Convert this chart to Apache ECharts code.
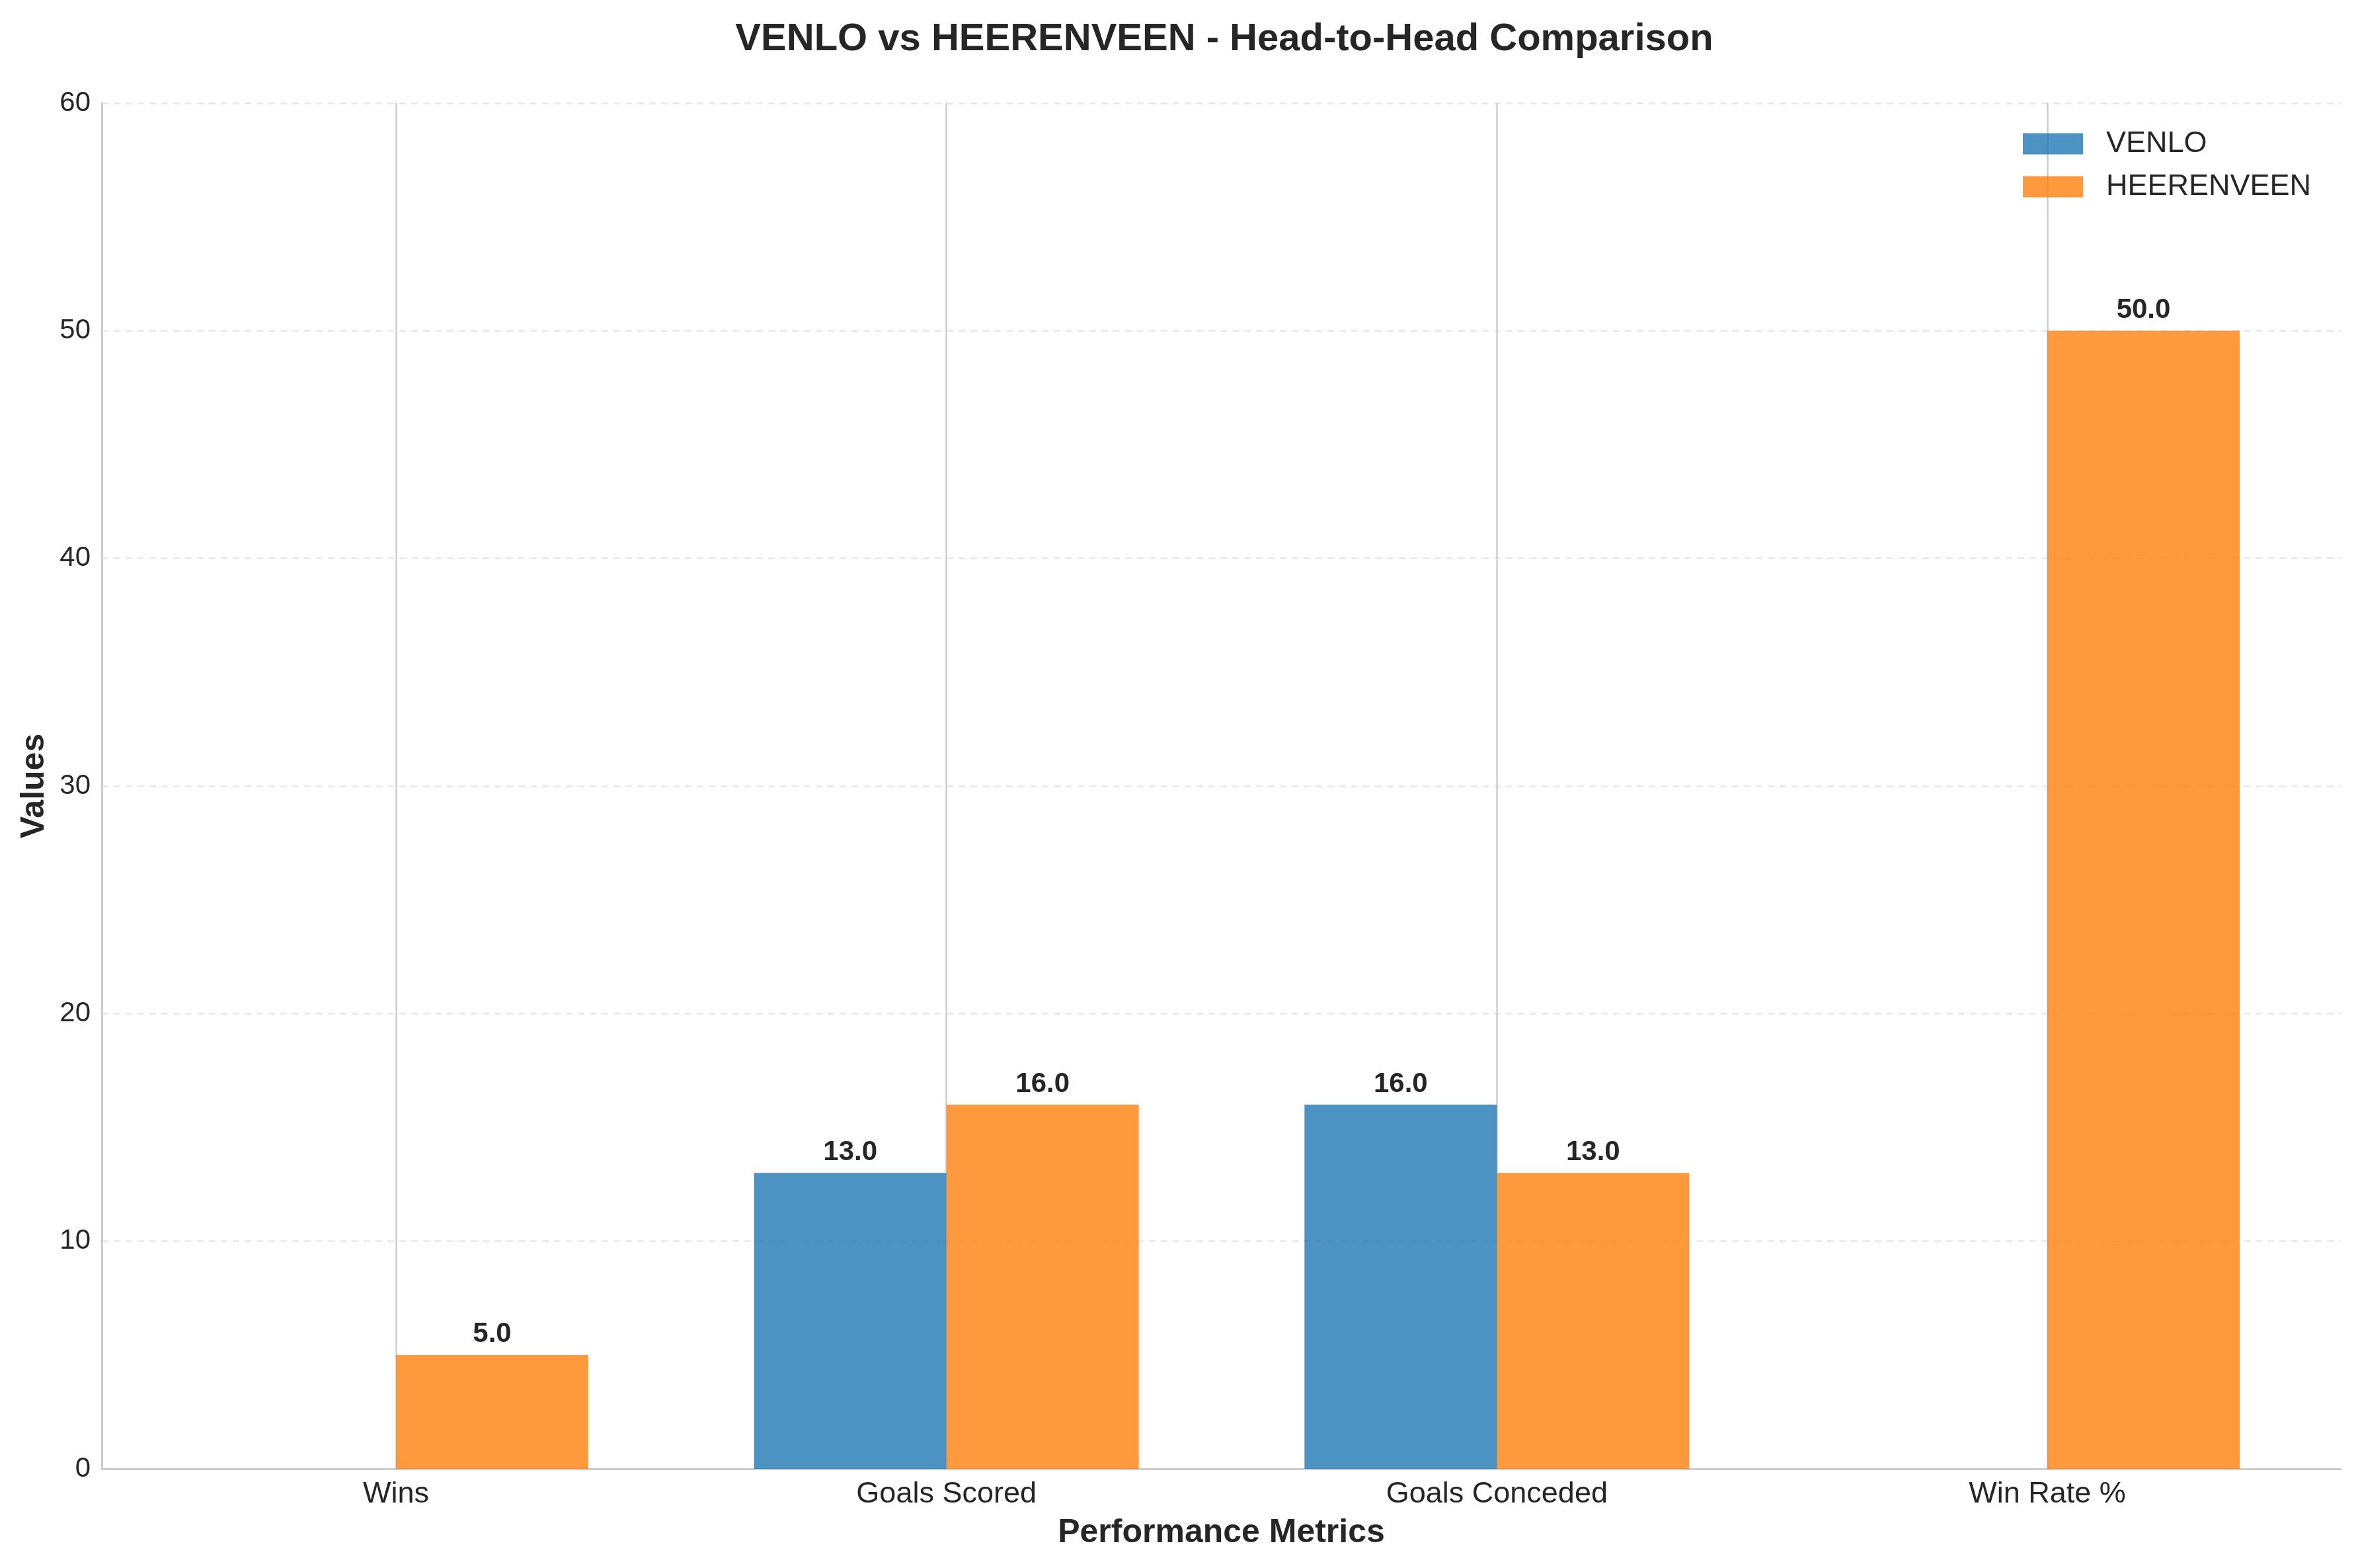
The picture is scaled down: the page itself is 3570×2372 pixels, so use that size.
<!DOCTYPE html>
<html>
<head>
<meta charset="utf-8">
<script src="https://cdn.jsdelivr.net/npm/echarts@6/dist/echarts.min.js"></script>
<style>
  html, body { margin: 0; padding: 0; background: #fff; }
  #chart { width: 3570px; height: 2372px; }
</style>
</head>
<body>
<div id="chart"></div>
<script>
// metrics on the x axis
const metrics = ['Wins', 'Goals Scored', 'Goals Conceded', 'Win Rate %']
// values per team
const venlo = [0, 13, 16, 0]
const heerenveen = [5, 16, 13, 50]
const teams = ['VENLO', 'HEERENVEEN']

const textColor = '#262626'
const lineColor = '#cccccc'
const font = 'Liberation Sans, Arial, sans-serif'

const chart = echarts.init(document.getElementById('chart'))

const barLabel = {
  show: true,
  position: 'top',
  distance: 10,
  fontFamily: font,
  fontSize: 42,
  fontWeight: 'bold',
  color: textColor,
  formatter: p => (p.value > 0 ? p.value.toFixed(1) : '')
}

const option = {
  backgroundColor: '#ffffff',
  animation: false,
  title: {
    text: 'VENLO vs HEERENVEEN - Head-to-Head Comparison',
    left: 1847,
    top: 26,
    textAlign: 'center',
    textStyle: {
      fontFamily: font,
      fontSize: 58,
      fontWeight: 'bold',
      color: textColor
    }
  },
  legend: {
    data: teams,
    orient: 'vertical',
    left: 3055,
    top: 190,
    icon: 'rect',
    itemWidth: 91,
    itemHeight: 32,
    itemGap: 20,
    textStyle: {
      fontFamily: font,
      fontSize: 45,
      color: textColor,
      padding: [0, 0, 0, 30]
    }
  },
  grid: [
    // full plot area: y axis, dashed grid, bottom spine
    {left: 154, right: 29, top: 156, bottom: 150, outerBoundsMode: 'none'},
    // category area: ticks at first/last category
    {left: 599, right: 473, top: 156, bottom: 150, outerBoundsMode: 'none'}
  ],
  xAxis: [
    {
      type: 'value',
      gridIndex: 0,
      min: 0,
      max: 1,
      axisLine: {show: true, lineStyle: {color: lineColor, width: 3}},
      axisTick: {show: false},
      axisLabel: {show: false},
      splitLine: {show: false},
      name: 'Performance Metrics',
      nameLocation: 'middle',
      nameGap: 72,
      nameTextStyle: {fontFamily: font, fontSize: 50, fontWeight: 'bold', color: textColor}
    },
    {
      type: 'category',
      gridIndex: 1,
      data: metrics,
      boundaryGap: false,
      axisLine: {show: false},
      axisTick: {show: false},
      axisLabel: {fontFamily: font, fontSize: 45, color: textColor, margin: 16, interval: 0},
      splitLine: {show: true, interval: 0, lineStyle: {color: lineColor, width: 2.5}}
    }
  ],
  yAxis: [
    {
      type: 'value',
      gridIndex: 0,
      min: 0,
      max: 60,
      interval: 10,
      axisLine: {show: true, lineStyle: {color: lineColor, width: 3}},
      axisTick: {show: false},
      axisLabel: {fontFamily: font, fontSize: 42, color: textColor, margin: 17},
      splitLine: {show: true, lineStyle: {color: '#e8e8e8', width: 2.5, type: [10, 8]}},
      name: 'Values',
      nameLocation: 'middle',
      nameRotate: 90,
      nameGap: 77,
      nameTextStyle: {fontFamily: font, fontSize: 50, fontWeight: 'bold', color: textColor}
    },
    {
      type: 'value',
      gridIndex: 1,
      min: 0,
      max: 60,
      show: false
    }
  ],
  series: [
    {
      name: 'VENLO',
      type: 'bar',
      xAxisIndex: 1,
      yAxisIndex: 1,
      data: venlo,
      barWidth: 291,
      barGap: '0%',
      clip: false,
      itemStyle: {color: 'rgba(31, 119, 180, 0.8)'},
      label: barLabel
    },
    {
      name: 'HEERENVEEN',
      type: 'bar',
      xAxisIndex: 1,
      yAxisIndex: 1,
      data: heerenveen,
      barWidth: 291,
      barGap: '0%',
      clip: false,
      itemStyle: {color: 'rgba(255, 127, 14, 0.8)'},
      label: barLabel
    }
  ]
}

chart.setOption(option)
window.onresize = chart.resize
</script>
</body>
</html>
